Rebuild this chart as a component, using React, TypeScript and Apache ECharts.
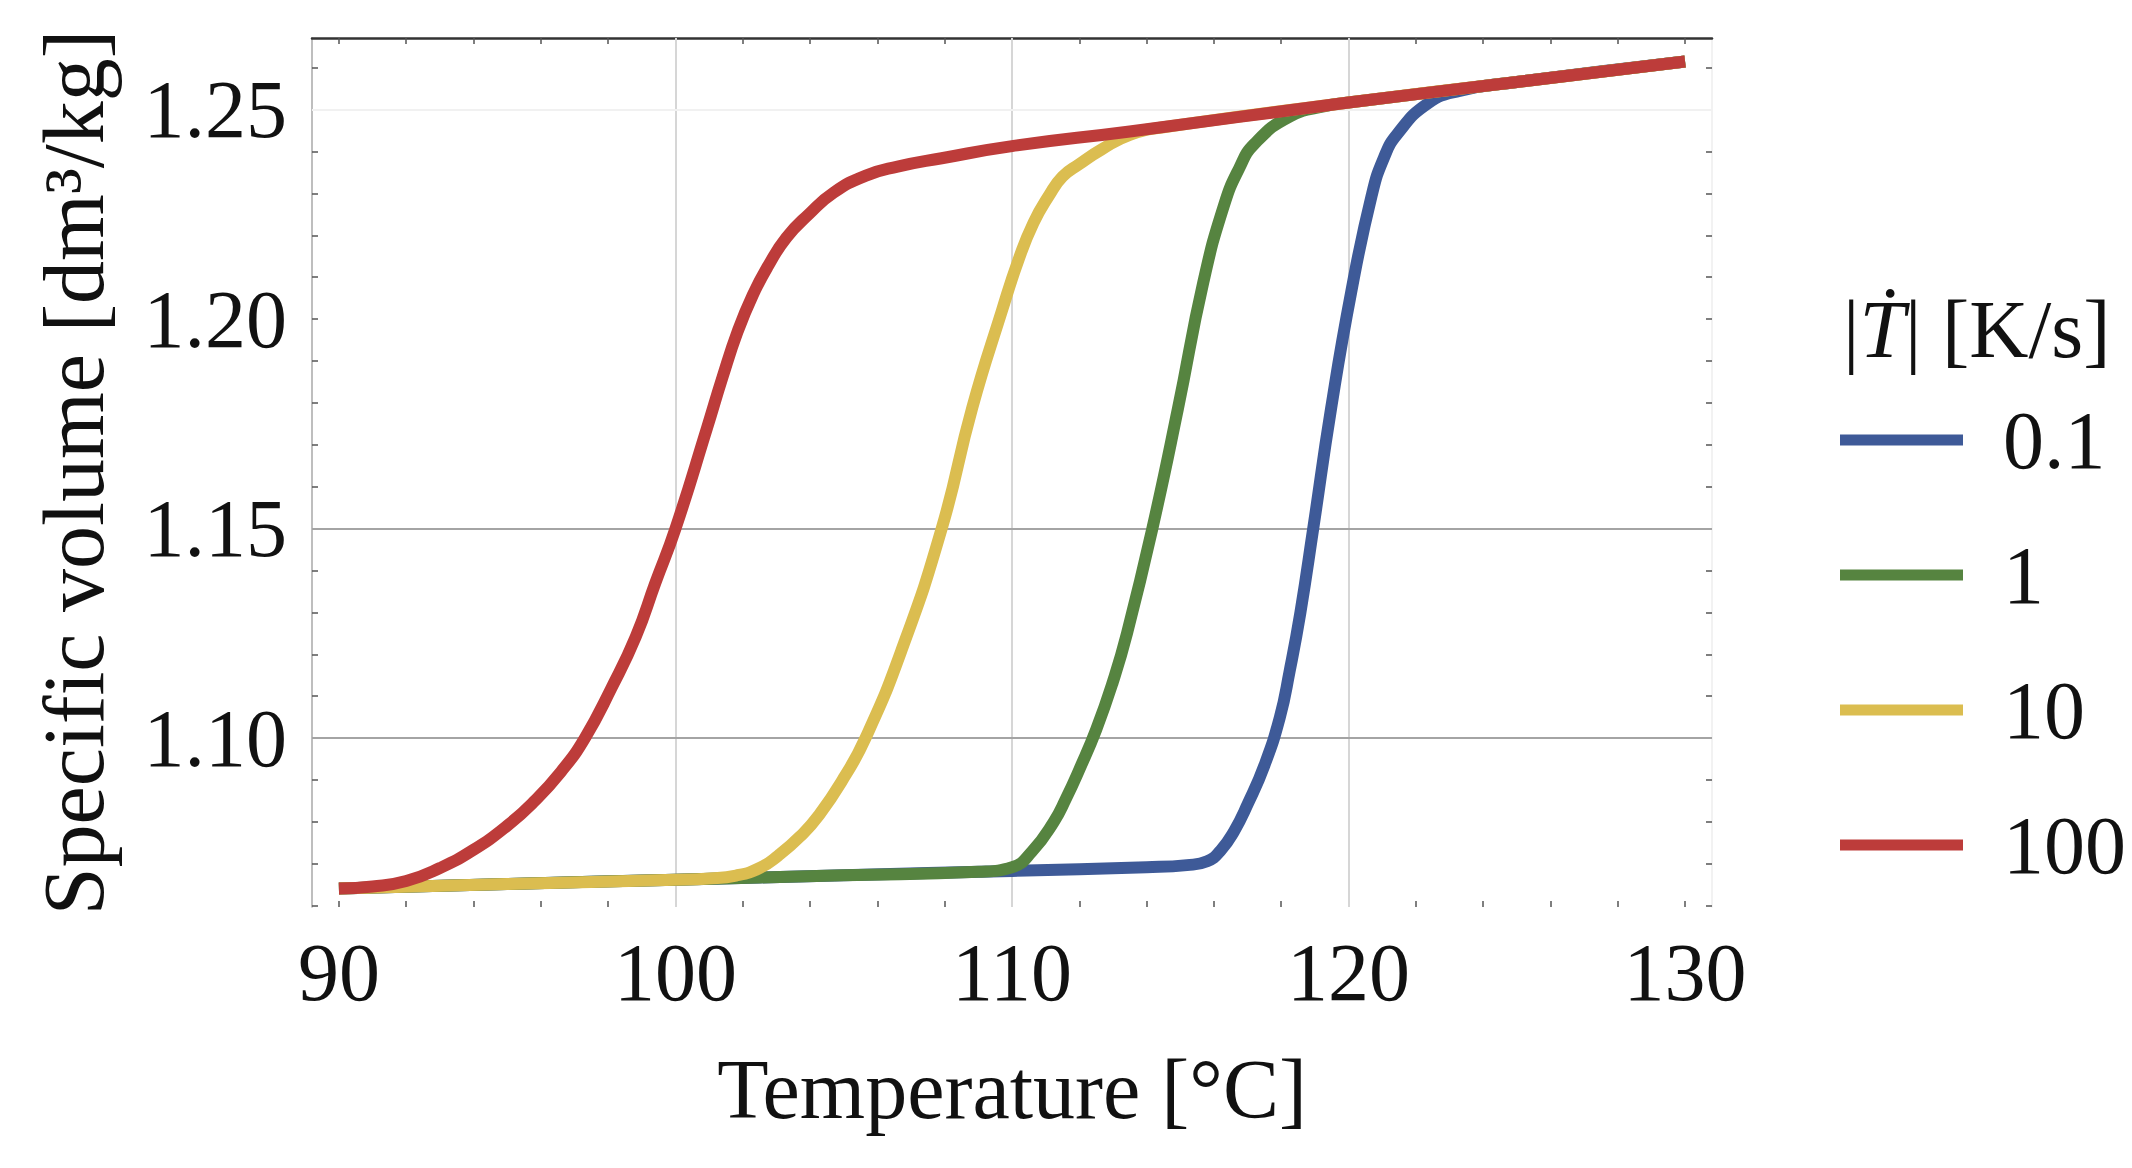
import { useEffect, useRef } from "react"
import * as echarts from "echarts"

// rate labels |Tdot| in K/s
const rates = ["0.1", "1", "10", "100"]
const colors = ["#3e5a98", "#568440", "#dbbd50", "#bd3c3a"]

// [temperature °C, specific volume dm3/kg]
const rate01 = [
  [90, 1.0641], [95, 1.0652], [100, 1.0662], [105, 1.0673], [110, 1.0683],
  [114, 1.0692], [115.2, 1.0697], [115.8, 1.0706], [116.2, 1.0732], [116.6, 1.0778],
  [117, 1.0842], [117.5, 1.0935], [117.96, 1.105], [118.25, 1.116], [118.57, 1.13],
  [118.95, 1.15], [119.48, 1.1786], [120.08, 1.2065], [120.69, 1.2296], [121.05, 1.2385],
  [121.45, 1.2442], [122.36, 1.2515], [123.3, 1.2545], [125, 1.2566], [130, 1.2615],
]
const rate1 = [
  [90, 1.0641], [95, 1.0652], [100, 1.0662], [105, 1.0673], [109, 1.0681],
  [110, 1.0692], [110.6, 1.073], [111.24, 1.08], [111.6, 1.0855], [112, 1.0925],
  [112.5, 1.102], [113, 1.1135], [113.42, 1.1251], [114.17, 1.15], [114.93, 1.1786],
  [115.69, 1.209], [116.3, 1.2272], [116.75, 1.236], [117.2, 1.2418], [118.26, 1.2484],
  [119.33, 1.2509], [120, 1.2517], [125, 1.2566], [130, 1.2615],
]
const rate10 = [
  [90, 1.0641], [95, 1.0652], [100, 1.0662], [101, 1.0665], [101.8, 1.0672],
  [102.5, 1.069], [103.06, 1.072], [103.7, 1.0765], [104.27, 1.0817], [105, 1.0905],
  [105.64, 1.0999], [106.7, 1.1206], [107.91, 1.15], [108.82, 1.1789], [109.7, 1.202],
  [110.2, 1.2143], [110.64, 1.223], [111.1, 1.2295], [111.5, 1.234], [112, 1.237],
  [112.66, 1.2405], [113.5, 1.244], [114.5, 1.2458], [120, 1.2517], [125, 1.2566],
  [130, 1.2615],
]
const rate100 = [
  [90, 1.0641], [91, 1.0646], [92, 1.0659], [93, 1.069], [93.97, 1.0732],
  [95, 1.0791], [95.79, 1.0848], [96.6, 1.092], [97.3, 1.0999], [98.1, 1.112],
  [98.82, 1.1242], [99.4, 1.137], [100, 1.15], [100.94, 1.1741], [101.4, 1.1862],
  [101.85, 1.1971], [102.3, 1.2058], [102.76, 1.2128], [103.3, 1.2195], [103.97, 1.2251],
  [104.7, 1.2302], [105.64, 1.2342], [106.6, 1.2364], [107.91, 1.2384], [110, 1.2413],
  [113.5, 1.2448], [120, 1.2517], [125, 1.2566], [130, 1.2615],
]
const curves = [rate01, rate1, rate10, rate100]

// ticks and grid lines
const tempTicks = [90, 100, 110, 120, 130]
const tempMinor = [90, 92, 94, 96, 98, 100, 102, 104, 106, 108, 110, 112, 114, 116, 118, 120, 122, 124, 126, 128, 130]
const volTicks = [1.1, 1.15, 1.2, 1.25]
const volMinor = [1.06, 1.07, 1.08, 1.09, 1.1, 1.11, 1.12, 1.13, 1.14, 1.15, 1.16, 1.17, 1.18, 1.19, 1.2, 1.21, 1.22, 1.23, 1.24, 1.25, 1.26]
const gridTemps = [100, 110, 120]
const gridVols = [1.1, 1.15, 1.25]

const serif = "'Liberation Serif', 'Times New Roman', serif"

export default function App() {
  const chartRef = useRef<HTMLDivElement>(null)

  useEffect(() => {
    document.body.style.margin = "0"
    if (!chartRef.current) return
    const chart = echarts.init(chartRef.current, undefined, { renderer: "svg" })

    const tickStyle = { show: true, inside: true, length: 6, lineStyle: { color: "#555", width: 1.5 } }
    const xBase = { type: "value" as const, min: 89.2, max: 130.8, splitLine: { show: false } }
    const yBase = { type: "value" as const, min: 1.0597, max: 1.2671, splitLine: { show: false } }

    const gridMarks = [
      ...gridTemps.map((t) => ({ xAxis: t, lineStyle: { color: "#d6d6d6", width: 2, type: "solid" } })),
      ...gridVols.map((v) => ({
        yAxis: v,
        lineStyle: { color: v > 1.2 ? "#f1f1f1" : "#a4a4a4", width: 2, type: "solid" },
      })),
    ]

    chart.setOption({
      animation: false,
      grid: { left: 312, right: 420, top: 38, bottom: 261 },
      xAxis: [
        {
          ...xBase,
          position: "bottom",
          name: "Temperature [°C]",
          nameLocation: "middle",
          nameGap: 140,
          nameTextStyle: { fontFamily: serif, fontSize: 84, color: "#111" },
          axisLine: { show: false },
          axisTick: { ...tickStyle, customValues: tempMinor },
          axisLabel: {
            customValues: tempTicks,
            margin: 24,
            fontFamily: serif,
            fontSize: 82,
            color: "#111",
          },
        },
        {
          ...xBase,
          position: "top",
          axisLine: { show: true, lineStyle: { color: "#333", width: 2.5 } },
          axisTick: { ...tickStyle, customValues: tempMinor },
          axisLabel: { show: false },
        },
      ],
      yAxis: [
        {
          ...yBase,
          position: "left",
          name: "Specific volume [dm³/kg]",
          nameLocation: "middle",
          nameGap: 195,
          nameTextStyle: { fontFamily: serif, fontSize: 86, color: "#111" },
          axisLine: { show: true, lineStyle: { color: "#a8a8a8", width: 1.5 } },
          axisTick: { ...tickStyle, customValues: volMinor },
          axisLabel: {
            customValues: volTicks,
            formatter: (v: number) => v.toFixed(2),
            margin: 25,
            fontFamily: serif,
            fontSize: 82,
            color: "#111",
          },
        },
        {
          ...yBase,
          position: "right",
          axisLine: { show: true, lineStyle: { color: "#eeeeee", width: 1.5 } },
          axisTick: { ...tickStyle, customValues: volMinor },
          axisLabel: { show: false },
        },
      ],
      legend: {
        data: rates,
        orient: "vertical",
        left: 1835,
        top: 390,
        icon: "rect",
        itemWidth: 123,
        itemHeight: 11,
        itemGap: 45,
        textStyle: {
          fontFamily: serif,
          fontSize: 82,
          lineHeight: 90,
          color: "#111",
          padding: [0, 0, 0, 35],
        },
      },
      graphic: [
        {
          type: "text",
          left: 1843,
          top: 288,
          style: {
            text: "{n||}{t|Ṫ}{n|| [K/s]}",
            rich: {
              n: { fontFamily: serif, fontSize: 82, fill: "#111" },
              t: { fontFamily: serif, fontSize: 82, fontStyle: "italic", fill: "#111" },
            },
          },
        },
      ],
      series: [
        {
          name: "grid",
          type: "line",
          data: [],
          z: 1,
          silent: true,
          markLine: {
            silent: true,
            symbol: ["none", "none"],
            label: { show: false },
            data: gridMarks,
          },
        },
        ...curves.map((pts, i) => ({
          name: rates[i],
          type: "line",
          data: pts,
          z: 10 + i,
          color: colors[i],
          itemStyle: { color: colors[i] },
          showSymbol: false,
          smooth: 0.5,
          lineStyle: { color: colors[i], width: 12, cap: "butt", join: "round" },
        })),
      ],
    })

    return () => chart.dispose()
  }, [])

  return <div ref={chartRef} style={{ width: 2132, height: 1168 }} />
}
